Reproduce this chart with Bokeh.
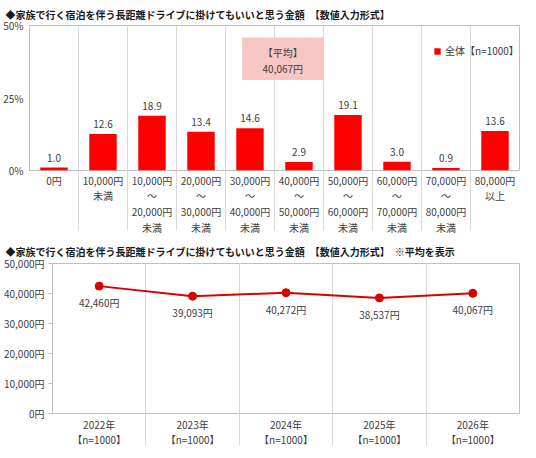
from bokeh.plotting import figure
from bokeh.models import (Range1d, FixedTicker, BoxAnnotation, Label, Legend,
                          LegendItem, ColumnDataSource)
from bokeh.embed import file_html
from bokeh.resources import INLINE
from bokeh.core.properties import value

FONT = "Noto Sans CJK JP"
TXT = "#404040"
RED = "#FF0000"
LINE_RED = "#D90000"
SEP = "#d9d9d9"

# ---------------- data ----------------
title_top = "◆家族で行く宿泊を伴う長距離ドライブに掛けてもいいと思う金額　【数値入力形式】"
title_bottom = "◆家族で行く宿泊を伴う長距離ドライブに掛けてもいいと思う金額　【数値入力形式】　※平均を表示"
categories = [
    "0円",
    "10,000円\n未満",
    "10,000円\n～\n20,000円\n未満",
    "20,000円\n～\n30,000円\n未満",
    "30,000円\n～\n40,000円\n未満",
    "40,000円\n～\n50,000円\n未満",
    "50,000円\n～\n60,000円\n未満",
    "60,000円\n～\n70,000円\n未満",
    "70,000円\n～\n80,000円\n未満",
    "80,000円\n以上",
]
shares = [1.0, 12.6, 18.9, 13.4, 14.6, 2.9, 19.1, 3.0, 0.9, 13.6]
share_ticks = [0, 25, 50]
series_name = "全体【n=1000】"
avg_title = "【平均】"
avg_text = "40,067円"

years = ["2022年\n【n=1000】", "2023年\n【n=1000】", "2024年\n【n=1000】",
         "2025年\n【n=1000】", "2026年\n【n=1000】"]
averages = [42460, 39093, 40272, 38537, 40067]
yen_ticks = [0, 10000, 20000, 30000, 40000, 50000]

# ---------------- top chart ----------------
n = len(categories)
xs = list(range(n))
src = ColumnDataSource(dict(x=xs, y=shares, lab=[f"{v:.1f}" for v in shares]))

p1 = figure(width=520, height=237, output_backend="svg", toolbar_location=None,
            x_range=Range1d(-0.5, n - 0.5), y_range=Range1d(0, 50),
            min_border_left=24, min_border_right=1, min_border_bottom=58,
            min_border_top=0)
p1.title.text = title_top
p1.title.text_font = FONT
p1.title.text_font_size = "10px"
p1.title.text_font_style = "bold"
p1.title.text_color = "#1a1a1a"
p1.title.offset = -24
p1.title.standoff = 8
p1.outline_line_color = "#bfbfbf"
p1.background_fill_color = "white"

bars = p1.vbar(x="x", top="y", width=0.56, source=src, fill_color=RED, line_color=None)
p1.text(x="x", y="y", text="lab", source=src, text_align="center", text_baseline="bottom",
        y_offset=-6, text_font=value(FONT), text_font_size="10px", text_color=TXT)

p1.xaxis.ticker = FixedTicker(ticks=xs, minor_ticks=[i + 0.5 for i in range(n - 1)])
p1.xaxis.major_label_overrides = {i: c for i, c in enumerate(categories)}
p1.xaxis.major_tick_line_color = None
p1.xaxis.major_tick_out = 0
p1.xaxis.major_tick_in = 0
p1.xaxis.minor_tick_line_color = SEP
p1.xaxis.minor_tick_in = 0
p1.xaxis.minor_tick_out = 60
p1.xaxis.axis_line_color = None
p1.xaxis.major_label_standoff = -58
p1.xaxis.major_label_text_font = FONT
p1.xaxis.major_label_text_font_size = "10px"
p1.xaxis.major_label_text_color = TXT
p1.xaxis.major_label_text_line_height = 1.05

p1.yaxis.ticker = FixedTicker(ticks=share_ticks)
p1.yaxis.major_label_overrides = {t: f"{t}%" for t in share_ticks}
p1.yaxis.major_tick_line_color = None
p1.yaxis.major_tick_out = 0
p1.yaxis.major_tick_in = 0
p1.yaxis.minor_tick_line_color = None
p1.yaxis.minor_tick_out = 0
p1.yaxis.minor_tick_in = 0
p1.yaxis.axis_line_color = None
p1.yaxis.major_label_standoff = 6
p1.yaxis.major_label_text_font = FONT
p1.yaxis.major_label_text_font_size = "10px"
p1.yaxis.major_label_text_color = TXT

p1.xgrid.grid_line_color = None
p1.xgrid.minor_grid_line_color = SEP
p1.ygrid.grid_line_color = None

p1.add_layout(BoxAnnotation(left=3.84, right=5.50, bottom=31.2, top=45.9,
                            fill_color="#F9C6C6", fill_alpha=1, line_color=None))
p1.add_layout(Label(x=4.67, y=40.8, text=avg_title, text_align="center", text_baseline="middle",
                    text_font=FONT, text_font_size="10px", text_color=TXT))
p1.add_layout(Label(x=4.67, y=35.3, text=avg_text, text_align="center", text_baseline="middle",
                    text_font=FONT, text_font_size="10px", text_color=TXT))

leg = Legend(items=[LegendItem(label=series_name, renderers=[bars])],
             location=(404, 112), padding=2, spacing=0, margin=0,
             glyph_width=8, glyph_height=8, label_standoff=4,
             label_text_font=FONT, label_text_font_size="10px", label_text_color=TXT,
             background_fill_alpha=0, border_line_color=None)
p1.add_layout(leg)

# ---------------- bottom chart ----------------
m = len(years)
yx = list(range(m))
src2 = ColumnDataSource(dict(x=yx, y=averages, lab=[f"{v:,}円" for v in averages]))

p2 = figure(width=520, height=213, output_backend="svg", toolbar_location=None,
            x_range=Range1d(-0.5, m - 0.5), y_range=Range1d(0, 50000),
            min_border_left=47, min_border_right=1, min_border_bottom=34,
            min_border_top=0)
p2.title.text = title_bottom
p2.title.text_font = FONT
p2.title.text_font_size = "10px"
p2.title.text_font_style = "bold"
p2.title.text_color = "#1a1a1a"
p2.title.offset = -47
p2.title.standoff = 9
p2.outline_line_color = "#bfbfbf"

p2.line(x="x", y="y", source=src2, line_color=LINE_RED, line_width=2)
p2.scatter(x="x", y="y", source=src2, size=8, fill_color=LINE_RED, line_color=LINE_RED)
p2.text(x="x", y="y", text="lab", source=src2, text_align="center", text_baseline="top",
        y_offset=9, text_font=value(FONT), text_font_size="10px", text_color=TXT)

p2.xaxis.ticker = FixedTicker(ticks=yx, minor_ticks=[i + 0.5 for i in range(m - 1)])
p2.xaxis.major_label_overrides = {i: c for i, c in enumerate(years)}
p2.xaxis.major_tick_line_color = None
p2.xaxis.major_tick_out = 0
p2.xaxis.major_tick_in = 0
p2.xaxis.minor_tick_line_color = SEP
p2.xaxis.minor_tick_in = 0
p2.xaxis.minor_tick_out = 32
p2.xaxis.axis_line_color = None
p2.xaxis.major_label_standoff = -29
p2.xaxis.major_label_text_font = FONT
p2.xaxis.major_label_text_font_size = "10px"
p2.xaxis.major_label_text_color = TXT
p2.xaxis.major_label_text_line_height = 1.05

p2.yaxis.ticker = FixedTicker(ticks=yen_ticks)
p2.yaxis.major_label_overrides = {t: f"{t:,}円" for t in yen_ticks}
p2.yaxis.major_tick_line_color = "#bfbfbf"
p2.yaxis.major_tick_in = 0
p2.yaxis.major_tick_out = 4
p2.yaxis.minor_tick_line_color = None
p2.yaxis.minor_tick_out = 0
p2.yaxis.minor_tick_in = 0
p2.yaxis.axis_line_color = None
p2.yaxis.major_label_standoff = 4
p2.yaxis.major_label_text_font = FONT
p2.yaxis.major_label_text_font_size = "10px"
p2.yaxis.major_label_text_color = TXT

p2.xgrid.grid_line_color = None
p2.xgrid.minor_grid_line_color = SEP
p2.ygrid.grid_line_color = None

open("out.html", "w").write(file_html([p1, p2], INLINE))
